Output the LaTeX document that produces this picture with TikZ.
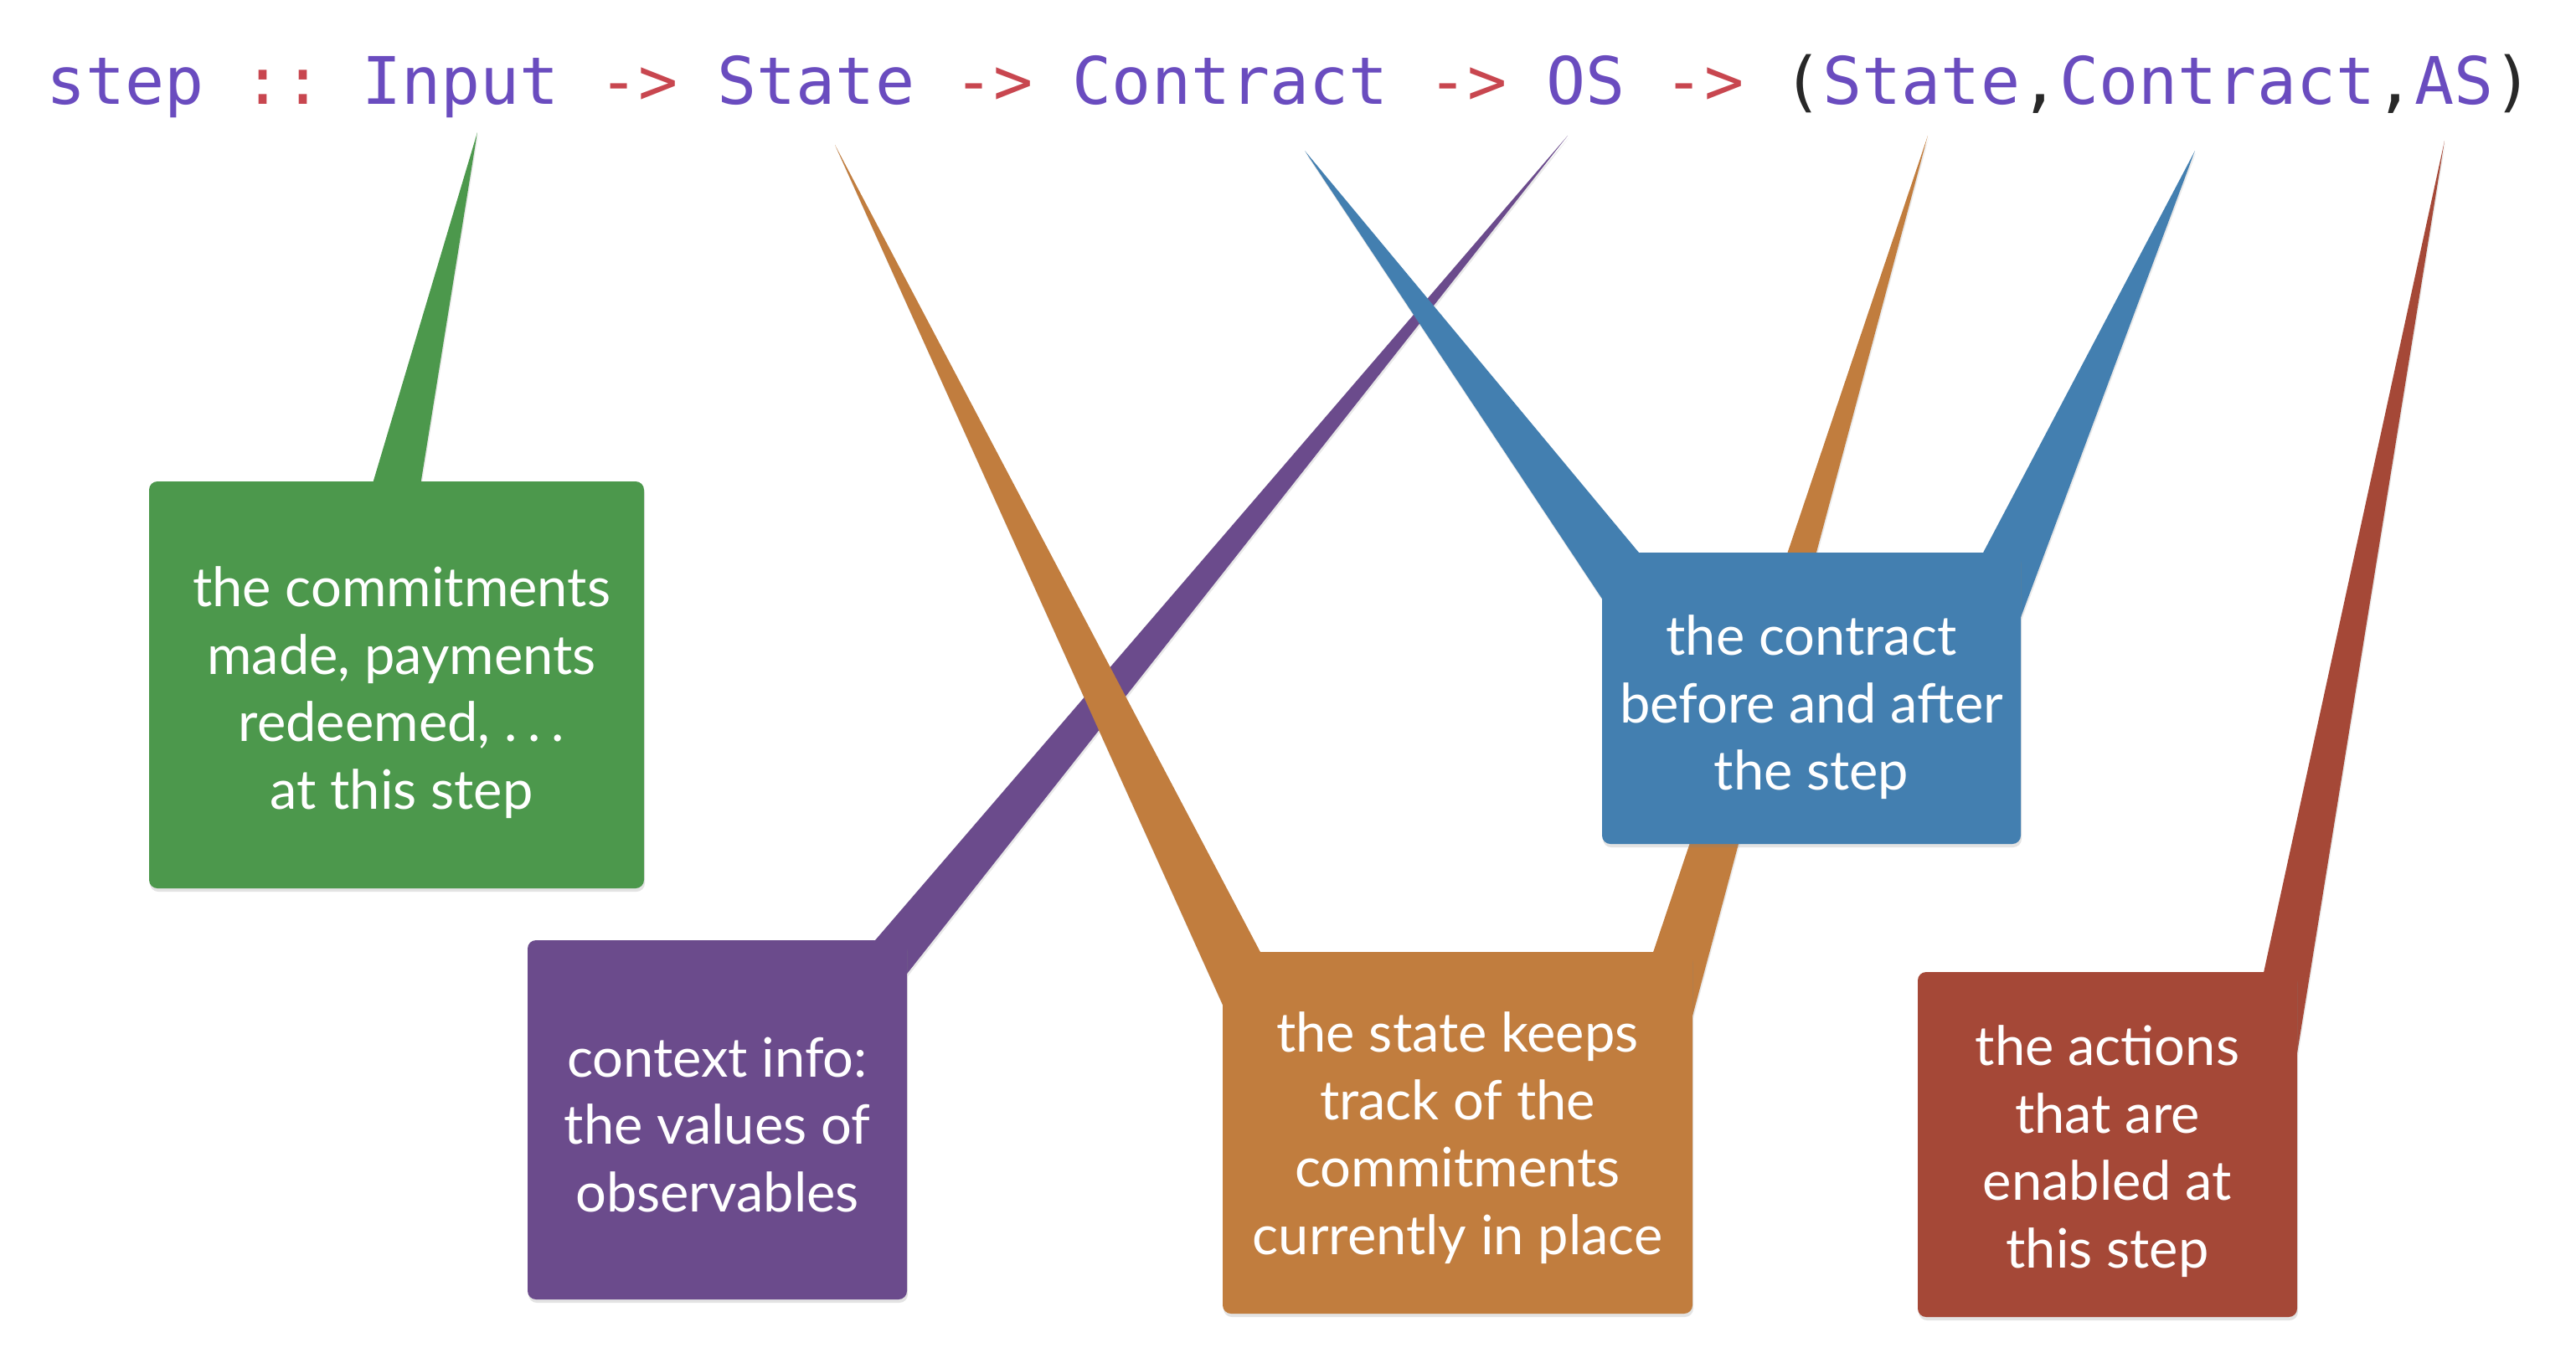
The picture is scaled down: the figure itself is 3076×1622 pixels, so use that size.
\documentclass[tikz,border=0pt]{standalone}
\usepackage{fontspec}
\setmainfont{Lato}
\newfontfamily\codefont{DejaVu Sans Mono}
\usetikzlibrary{shadows,calc}
\pgfdeclarelayer{paper}
\pgfdeclarelayer{tails}
\pgfsetlayers{paper,tails,main}
\definecolor{cgreen}{HTML}{4C984C}
\definecolor{cpurple}{HTML}{6B4B8C}
\definecolor{corange}{HTML}{C17D3E}
\definecolor{cblue}{HTML}{437FB0}
\definecolor{cred}{HTML}{A54837}
\definecolor{codepurple}{HTML}{6A4CBF}
\definecolor{codered}{HTML}{C8464F}
\definecolor{codeblack}{HTML}{282828}
\frenchspacing
\begin{document}
\begin{tikzpicture}[x=1pt,y=-1pt,
  callout/.style={rectangle, rounded corners=10pt, fill=#1, inner sep=0pt,
    drop shadow={opacity=0.22, shadow xshift=1pt, shadow yshift=-4pt}},
  boxtext/.style={text=white, align=center, inner sep=0pt, font=\fontsize{65}{80.5}\selectfont},
  tail/.style={fill=#1, drop shadow={opacity=0.18, shadow xshift=1pt, shadow yshift=-3pt}},
]
\begin{pgfonlayer}{paper}
\fill[white] (0,0) rectangle (3076,1622);
\end{pgfonlayer}
\useasboundingbox (0,0) rectangle (3076,1622);

% code line
\node[anchor=base west, inner sep=0pt, font=\codefont\fontsize{78.3}{90}\selectfont] (code) at (55,124)
 {\textcolor{codepurple}{step} \textcolor{codered}{::} \textcolor{codepurple}{Input} \textcolor{codered}{->} \textcolor{codepurple}{State} \textcolor{codered}{->} \textcolor{codepurple}{Contract} \textcolor{codered}{->} \textcolor{codepurple}{OS} \textcolor{codered}{->} \textcolor{codeblack}{(}\textcolor{codepurple}{State}\textcolor{codeblack}{,}\textcolor{codepurple}{Contract}\textcolor{codeblack}{,}\textcolor{codepurple}{AS}\textcolor{codeblack}{)}};

% tail tips under the words
\coordinate (tInput) at (570,158);
\coordinate (tState) at (997,173);
\coordinate (tContract) at (1558,180);
\coordinate (tOS) at (1872,162);
\coordinate (tState2) at (2302,162);
\coordinate (tContract2) at (2621,180);
\coordinate (tAS) at (2919,168);

% boxes
\node[callout=cgreen, minimum width=591pt, minimum height=486pt] (commit) at (473.5,818) {};
\node[callout=cpurple, minimum width=453pt, minimum height=429pt] (ctx) at (856.5,1337.5) {};
\node[callout=corange, minimum width=561pt, minimum height=432pt] (state) at (1740.5,1353) {};
\node[callout=cblue, minimum width=500pt, minimum height=348pt] (contract) at (2163,834) {};
\node[callout=cred, minimum width=453pt, minimum height=412pt] (actions) at (2516.5,1367) {};

% sharp corners where the tails join
\fill[cpurple] (ctx.north east) rectangle +(-14,14);
\fill[cred] (actions.north east) rectangle +(-14,14);
\fill[corange] (state.north west) rectangle +(14,14);
\fill[corange] (state.north east) rectangle +(-14,14);
\fill[cblue] (contract.north west) rectangle +(14,14);
\fill[cblue] (contract.north east) rectangle +(-14,14);

% texts
\node[boxtext] (commit-t) at ($(commit)+(6,9)$)
  {the commitments\\made, payments\\redeemed, .\kern0.2em.\kern0.2em.\\at this step};
\node[boxtext] (ctx-t) at ($(ctx)+(0,6)$) {context info:\\the values of\\observables};
\node[boxtext] (state-t) at ($(state)+(0,6)$) {the state keeps\\track of the\\commitments\\currently in place};
\node[boxtext] (contract-t) at ($(contract)+(0,11)$) {the contract\\before and after\\the step};
\node[boxtext] (actions-t) at ($(actions)+(0,8)$) {the actions\\that are\\enabled at\\this step};

% tails
\begin{pgfonlayer}{tails}
\fill[tail=cpurple] (tOS) -- ($(ctx.north east)+(-38,0)$) -- (ctx.north east) -- ($(ctx.north east)+(0,40)$) -- cycle;
\fill[tail=cgreen] (tInput) -- ($(commit.north west)+(268,0)$) -- ($(commit.north west)+(268,30)$)
  -- ($(commit.north west)+(325,30)$) -- ($(commit.north west)+(325,0)$) -- cycle;
\fill[tail=cred] (tAS) -- ($(actions.north east)+(-40,0)$) -- (actions.north east) -- ($(actions.north east)+(0,96)$) -- cycle;
\fill[tail=corange] (tState) -- ($(state.north west)+(0,63)$) -- (state.north west) -- ($(state.north west)+(45,0)$) -- cycle;
\fill[tail=corange] (tState2) -- ($(state.north east)+(-47,0)$) -- (state.north east) -- ($(state.north east)+(0,76)$) -- cycle;
\fill[tail=cblue] (tContract) -- ($(contract.north west)+(0,55)$) -- (contract.north west) -- ($(contract.north west)+(44,0)$) -- cycle;
\fill[tail=cblue] (tContract2) -- ($(contract.north east)+(-45,0)$) -- (contract.north east) -- ($(contract.north east)+(0,77)$) -- cycle;
\end{pgfonlayer}
\end{tikzpicture}
\end{document}
